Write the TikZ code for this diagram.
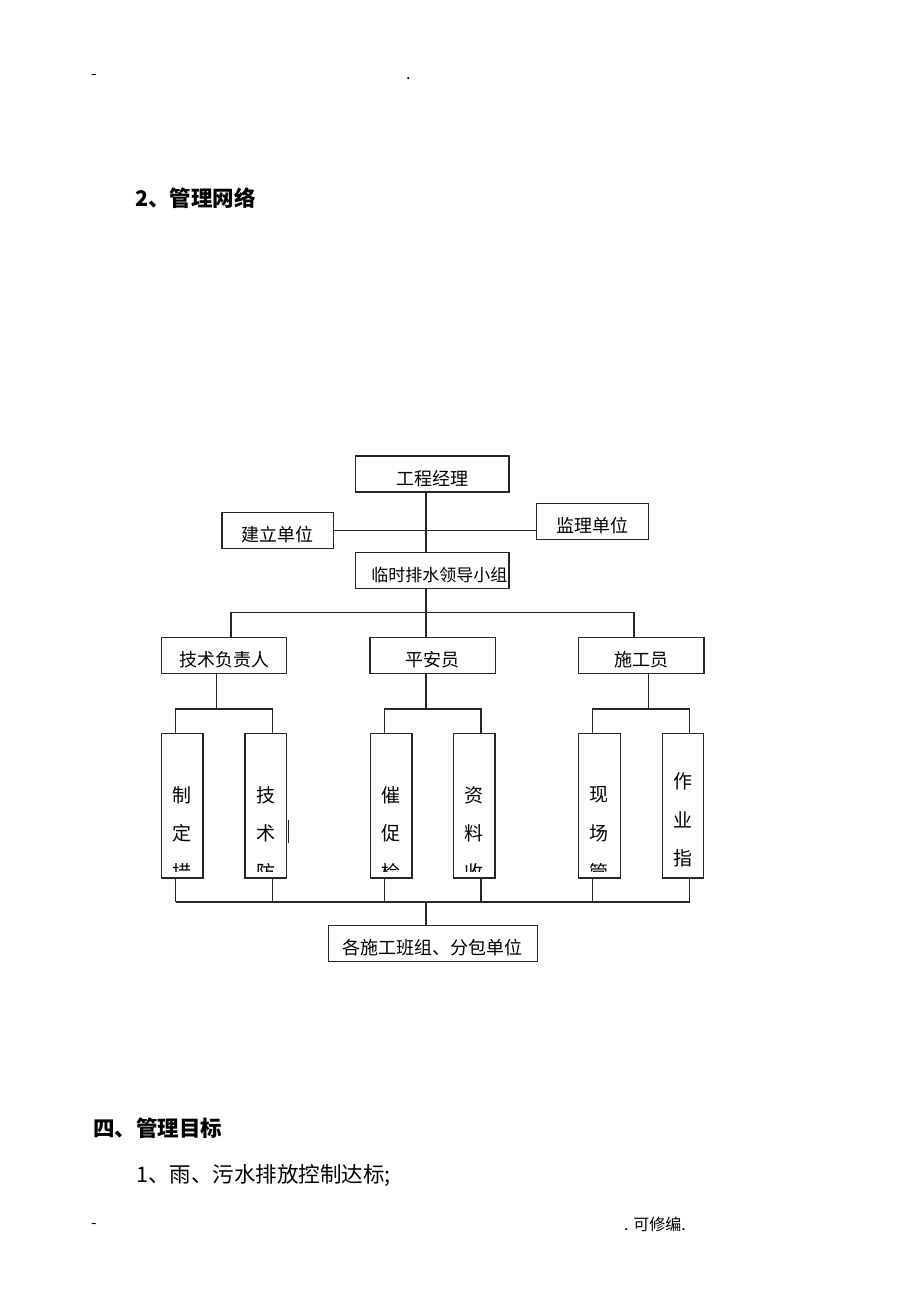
\documentclass[tikz,border=0pt]{standalone}
\usepackage{fontspec}
\setmainfont{Noto Sans CJK SC}
\usetikzlibrary{positioning,calc}
\tikzset{
    unit/.style={rectangle, draw=black!85, line width=1.2pt, inner sep=0pt, minimum height=36pt, text height=22pt, text depth=0pt, font=\fontsize{18}{20}\selectfont},
    vbox/.style={rectangle, draw=black!85, line width=1.2pt, inner sep=0pt, minimum width=41.5pt, minimum height=144.7pt},
    vchar/.style={inner sep=0pt, font=\fontsize{19}{22}\selectfont},
    link/.style={draw=black!85, line width=1.2pt},
    head/.style={anchor=west, inner sep=0pt, font=\fontsize{21.5}{24}\selectfont\bfseries},
    body/.style={anchor=west, inner sep=0pt, font=\fontsize{21.5}{24}\selectfont},
    pagemark/.style={anchor=west, inner sep=0pt, font=\fontsize{16}{18}\selectfont}
}

\begin{document}
\begin{tikzpicture}[x=1pt, y=-1pt]
\useasboundingbox (0,0) rectangle (920,1302);

% ----------------------------
% Page text
% ----------------------------
\node[pagemark] (hdrL) at (91,77) {-};
\node[pagemark] (hdrR) at (406,79) {.};
\node[head] (title) at (135,198) {2、管理网络};
\node[head] (goal) at (93,1128) {四、管理目标};
\node[body] (item1) at (136,1175) {1、雨、污水排放控制达标;};
\node[pagemark] (ftrL) at (91,1226) {-};
\node[pagemark] (ftrR) at (624,1224) {. 可修编.};

% ----------------------------
% Boxes
% ----------------------------
\node[unit, minimum width=153.5pt] (pm) at (432.3,474) {工程经理};
\node[unit, minimum width=111.5pt] (build) at (277.7,530.7) {建立单位};
\node[unit, minimum width=111.6pt] (super) at (592.5,521.3) {监理单位};
\node[unit, minimum width=153.5pt, text width=150pt, align=right, font=\fontsize{17}{19}\selectfont] (grp) at (432.3,570.8) {临时排水领导小组};

\node[unit, minimum width=125pt] (tech) at (224.2,655.3) {技术负责人};
\node[unit, minimum width=125.3pt] (safe) at (432.7,655.3) {平安员};
\node[unit, minimum width=125.7pt] (cons) at (641.2,655.3) {施工员};

\node[unit, minimum width=209pt] (teams) at (432.8,943.8) {各施工班组、分包单位};

% tall boxes, text cut off at the bottom
\foreach \i/\cx/\ty/\chars in {1/182.2/795/{制,定,措}, 2/265.8/795/{技,术,防},
    3/391.2/795/{催,促,检}, 4/474.3/795/{资,料,收},
    5/599.4/795/{现,场,管}, 6/683/781/{作,业,指}} {
  \node[vbox] (s\i) at (\cx,805.7) {};
  \begin{scope}
    \clip (s\i.north west) rectangle ([yshift=7pt]s\i.south east);
    \foreach \c [count=\k] in \chars
      \node[vchar] (c\i\k) at (\cx,{\ty+38.5*(\k-1)}) {\c};
  \end{scope}
}
\draw[link] ($(s2.east)+(1.2,14.3)$) -- ++(0,23);

% ----------------------------
% Connectors
% ----------------------------
\coordinate (spine) at (426,612.7);
\coordinate (busL) at (231,612.7);
\coordinate (busR) at (634,612.7);
\coordinate (join) at (426,902);

\draw[link] (spine |- pm.south) -- (spine |- grp.north);
\draw[link] (build.east) -- (build.east -| super.west);
\draw[link] (spine |- grp.south) -- (spine |- safe.north);
\draw[link] (busL |- tech.north) -- (busL) -- (busR) -- (busR |- cons.north);

\foreach \i/\dx in {1/-6.7, 2/6.7, 3/-6.7, 4/6.7, 5/-6.7, 6/6.7} {
  \coordinate (up\i) at ([xshift=\dx pt]s\i.north);
  \coordinate (dn\i) at ([xshift=\dx pt]s\i.south);
  \draw[link] (dn\i) -- (dn\i |- join);
}

\foreach \p/\x/\a/\b in {tech/216.7/1/2, safe/426/3/4, cons/648.3/5/6} {
  \coordinate (fork\a) at (\x,709);
  \draw[link] (fork\a |- \p.south) -- (fork\a);
  \draw[link] (up\a) |- (fork\a) -| (up\b);
}

\draw[link] (dn1 |- join) -- (dn6 |- join);
\draw[link] (join) -- (join |- teams.north);

\end{tikzpicture}
\end{document}
